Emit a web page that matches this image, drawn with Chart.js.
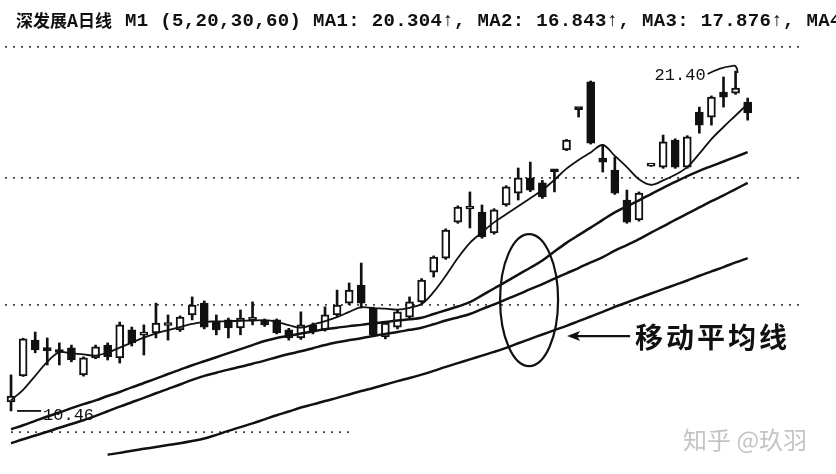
<!DOCTYPE html>
<html>
<head>
<meta charset="utf-8">
<script src="https://cdn.jsdelivr.net/npm/chart.js@4.4.0/dist/chart.umd.min.js"></script>
<style>
  html, body { margin: 0; padding: 0; background: #fff; }
  #wrap { width: 836px; height: 474px; position: relative; }
</style>
</head>
<body>
<div id="wrap"><canvas id="kline"></canvas></div>
<script>
// 深发展A 日线, prices
const openP = [10.75, 11.59, 12.74, 12.42, 12.36, 12.49, 11.62, 12.17, 12.58, 12.17,
  13.07, 12.90, 12.97, 13.21, 13.07, 13.55, 13.93, 13.32, 13.39, 13.13,
  13.38, 13.36, 13.39, 13.07, 12.81, 13.23, 13.07, 13.55, 13.93, 14.51,
  13.77, 12.84, 13.16, 13.48, 13.97, 14.93, 15.38, 16.54, 16.96, 16.86,
  16.19, 17.09, 17.47, 17.96, 17.80, 18.18, 18.86, 20.18, 21.05, 18.60,
  18.21, 17.25, 16.61, 18.34, 18.31, 19.18, 18.31, 20.08, 19.92, 20.72,
  20.69, 20.40];
const closeP = [10.94, 12.78, 12.42, 12.40, 12.34, 12.10, 12.17, 12.52, 12.20, 13.23,
  12.65, 12.92, 13.29, 13.24, 13.48, 13.87, 13.16, 13.07, 13.13, 13.45,
  13.40, 13.23, 12.97, 12.81, 13.23, 13.00, 13.55, 13.87, 14.35, 13.93,
  12.91, 13.29, 13.65, 13.97, 14.67, 15.41, 16.28, 17.02, 16.99, 16.06,
  16.93, 17.67, 17.96, 17.57, 17.35, 18.16, 19.18, 20.16, 19.08, 18.47,
  17.47, 16.54, 17.47, 18.35, 19.12, 18.31, 19.28, 19.66, 20.56, 20.56,
  20.85, 20.05];
const highP = [11.62, 12.80, 13.00, 12.81, 12.65, 12.58, 12.20, 12.58, 12.65, 13.32,
  13.16, 13.23, 13.93, 13.55, 13.52, 14.13, 14.00, 13.55, 13.45, 13.71,
  13.97, 13.42, 13.42, 13.12, 13.65, 13.29, 13.81, 14.35, 14.58, 15.22,
  13.80, 13.33, 13.70, 14.13, 14.72, 15.45, 16.32, 17.06, 17.51, 17.09,
  16.97, 17.71, 18.28, 18.47, 17.88, 18.20, 19.20, 20.20, 21.08, 19.02,
  18.63, 17.57, 17.51, 18.36, 19.34, 19.22, 19.32, 20.24, 20.60, 21.21,
  21.40, 20.53];
const lowP = [10.46, 11.57, 12.33, 11.94, 11.94, 12.04, 11.58, 12.14, 12.10, 12.00,
  12.55, 12.26, 12.81, 12.74, 13.02, 13.39, 13.10, 12.91, 12.81, 12.91,
  13.23, 13.18, 12.94, 12.74, 12.76, 12.94, 13.03, 13.50, 13.88, 13.77,
  12.88, 12.78, 13.10, 13.43, 13.93, 14.77, 15.34, 16.50, 16.35, 16.02,
  16.15, 17.05, 17.25, 17.52, 17.30, 17.51, 18.84, 19.92, 19.05, 18.15,
  17.43, 16.50, 16.57, 18.33, 18.27, 18.27, 18.27, 19.40, 19.66, 20.24,
  20.65, 19.82];

// moving averages (5, 20, 30, 60)
const ma5 = [10.81, 11.14, 11.59, 12.04, 12.35, 12.31, 12.28, 12.24, 12.34, 12.50,
  12.66, 12.82, 12.96, 13.06, 13.16, 13.26, 13.33, 13.34, 13.35, 13.36,
  13.37, 13.38, 13.33, 13.22, 13.14, 13.24, 13.35, 13.48, 13.65, 13.80,
  13.77, 13.75, 13.72, 13.78, 13.90, 14.29, 14.81, 15.38, 15.87, 16.21,
  16.53, 16.79, 17.05, 17.31, 17.57, 17.90, 18.26, 18.54, 18.78, 19.02,
  18.67, 18.31, 17.92, 17.74, 17.88, 18.06, 18.31, 18.74, 19.21, 19.60,
  19.97, 20.34];
const ma20 = [9.87, 10.00, 10.14, 10.28, 10.41, 10.55, 10.68, 10.80, 10.94, 11.07,
  11.22, 11.36, 11.50, 11.65, 11.79, 11.93, 12.06, 12.19, 12.32, 12.45,
  12.58, 12.71, 12.81, 12.88, 12.95, 13.02, 13.09, 13.14, 13.19, 13.23,
  13.28, 13.32, 13.37, 13.41, 13.46, 13.58, 13.70, 13.82, 13.96, 14.18,
  14.40, 14.62, 14.85, 15.07, 15.30, 15.59, 15.87, 16.12, 16.36, 16.61,
  16.85, 17.05, 17.24, 17.44, 17.64, 17.83, 18.02, 18.19, 18.34, 18.49,
  18.64, 18.79];
const ma30 = [9.42, 9.55, 9.67, 9.79, 9.92, 10.04, 10.16, 10.30, 10.45, 10.60,
  10.74, 10.88, 11.03, 11.17, 11.31, 11.46, 11.59, 11.69, 11.79, 11.88,
  11.98, 12.08, 12.19, 12.29, 12.38, 12.48, 12.58, 12.67, 12.74, 12.80,
  12.87, 12.94, 13.00, 13.07, 13.14, 13.25, 13.37, 13.47, 13.58, 13.74,
  13.89, 14.05, 14.21, 14.38, 14.54, 14.72, 14.89, 15.06, 15.24, 15.41,
  15.62, 15.80, 15.99, 16.20, 16.40, 16.61, 16.81, 17.01, 17.21, 17.40,
  17.60, 17.80];
const ma60 = [null, null, null, null, null, null, null, null, 9.05, 9.11,
  9.18, 9.24, 9.30, 9.36, 9.42, 9.49, 9.57, 9.69, 9.82, 9.94,
  10.06, 10.19, 10.32, 10.44, 10.57, 10.67, 10.78, 10.88, 10.99, 11.10,
  11.20, 11.31, 11.42, 11.52, 11.63, 11.75, 11.88, 12.00, 12.12, 12.24,
  12.36, 12.49, 12.64, 12.78, 12.92, 13.06, 13.20, 13.35, 13.50, 13.65,
  13.81, 13.95, 14.10, 14.24, 14.38, 14.52, 14.66, 14.81, 14.95, 15.09,
  15.24, 15.38];

// dotted price levels
const gridLevels = [9.78, 13.87, 17.96, 22.17];

// 62 trading days plus a few empty slots on the right
const days = [];
for (let i = 1; i <= 66; i++) days.push(i);

const headerName = '深发展A日线';
const headerText = 'M1 (5,20,30,60) MA1: 20.304↑, MA2: 16.843↑, MA3: 17.876↑, MA4';
const lowLabel = '10.46';
const highLabel = '21.40';
const maLabel = '移动平均线';
const watermark = '知乎 @玖羽';

const ink = '#111';

// bottom dotted level only runs under the first part of the chart
const lowLevel = days.map((d, i) => (i <= 28 ? gridLevels[0] : null));

const marks = {
  id: 'marks',
  afterDraw(chart) {
    const { ctx, scales: { x, y } } = chart;
    ctx.save();
    ctx.fillStyle = ink;
    ctx.strokeStyle = ink;
    ctx.textBaseline = 'middle';

    // header
    ctx.font = 'bold 17px "Noto Sans CJK SC"';
    ctx.fillText(headerName, 16, 21);
    ctx.font = 'bold 19px "Liberation Mono"';
    ctx.letterSpacing = '0.35px';
    ctx.fillText(headerText, 125, 21);
    ctx.letterSpacing = '0px';

    // low 10.46
    const iLow = lowP.indexOf(Math.min(...lowP));
    const lx = x.getPixelForValue(iLow), ly = y.getPixelForValue(lowP[iLow]);
    ctx.lineWidth = 1.8;
    ctx.beginPath();
    ctx.moveTo(lx + 6, ly);
    ctx.lineTo(lx + 30, ly);
    ctx.stroke();
    ctx.font = '17px "Liberation Mono"';
    ctx.fillText(lowLabel, lx + 32, ly + 5);

    // high 21.40
    const iHigh = highP.indexOf(Math.max(...highP));
    const hx = x.getPixelForValue(iHigh), hy = y.getPixelForValue(highP[iHigh]);
    ctx.textAlign = 'right';
    ctx.fillText(highLabel, hx - 30, hy + 4);
    ctx.beginPath();
    ctx.moveTo(hx - 28, hy + 3);
    ctx.quadraticCurveTo(hx - 15, hy - 4, hx - 4, hy - 5);
    ctx.quadraticCurveTo(hx + 2, hy - 7, hx + 2, hy + 2);
    ctx.stroke();

    // circled moving averages + arrow + label
    const ex = x.getPixelForValue(42.9), ey = y.getPixelForValue(14.03);
    ctx.lineWidth = 2.2;
    ctx.beginPath();
    ctx.ellipse(ex, ey, 29, 66, 0, 0, Math.PI * 2);
    ctx.stroke();

    const ax = ex + 38, ay = ey + 36;
    ctx.beginPath();
    ctx.moveTo(ax + 8, ay);
    ctx.lineTo(ax + 63, ay);
    ctx.stroke();
    ctx.beginPath();
    ctx.moveTo(ax, ay);
    ctx.lineTo(ax + 13, ay - 5);
    ctx.lineTo(ax + 10, ay);
    ctx.lineTo(ax + 13, ay + 5);
    ctx.closePath();
    ctx.fill();

    ctx.textAlign = 'left';
    ctx.font = 'bold 28px "Noto Sans CJK SC"';
    ctx.letterSpacing = '3px';
    ctx.fillText(maLabel, ax + 68, ay + 1);
    ctx.letterSpacing = '0px';

    // watermark
    ctx.fillStyle = '#c4c4c4';
    ctx.font = '24px "Noto Sans CJK SC"';
    ctx.fillText(watermark, 683, 440);
    ctx.restore();
  }
};

const lineStyle = {
  type: 'line',
  borderColor: ink,
  borderWidth: 2.5,
  pointRadius: 0,
  tension: 0.35,
  fill: false,
  order: 0
};

new Chart(document.getElementById('kline'), {
  type: 'bar',
  data: {
    labels: days,
    datasets: [
      {
        label: 'body',
        data: openP.map((o, i) => [o, closeP[i]]),
        backgroundColor: (c) => (closeP[c.dataIndex] >= openP[c.dataIndex] ? '#fff' : ink),
        borderColor: ink,
        borderWidth: 2,
        borderSkipped: false,
        barThickness: 8,
        minBarLength: 3,
        grouped: false,
        order: 1
      },
      {
        label: 'wick',
        data: lowP.map((l, i) => [l, highP[i]]),
        backgroundColor: ink,
        barThickness: 2,
        grouped: false,
        order: 2
      },
      { ...lineStyle, label: 'MA5', data: ma5, borderWidth: 1.8 },
      { ...lineStyle, label: 'MA20', data: ma20 },
      { ...lineStyle, label: 'MA30', data: ma30 },
      { ...lineStyle, label: 'MA60', data: ma60 },
      {
        type: 'line',
        label: 'level',
        data: lowLevel,
        borderColor: '#444',
        borderWidth: 1.8,
        borderDash: [2, 6],
        pointRadius: 0,
        order: 3
      }
    ]
  },
  options: {
    responsive: true,
    maintainAspectRatio: false,
    animation: false,
    layout: { padding: { top: 40, left: 5, right: 34, bottom: 0 } },
    plugins: { legend: { display: false }, tooltip: { enabled: false } },
    scales: {
      x: { display: false },
      y: {
        min: 8.43,
        max: 22.40,
        afterBuildTicks: (scale) => { scale.ticks = gridLevels.map((v) => ({ value: v })); },
        ticks: { display: false },
        border: { display: false, dash: [2, 6] },
        grid: {
          drawTicks: false,
          lineWidth: 1.8,
          color: (c) => (c.tick && c.tick.value === gridLevels[0] ? 'rgba(0,0,0,0)' : '#444')
        }
      }
    }
  },
  plugins: [marks]
});
</script>
</body>
</html>
